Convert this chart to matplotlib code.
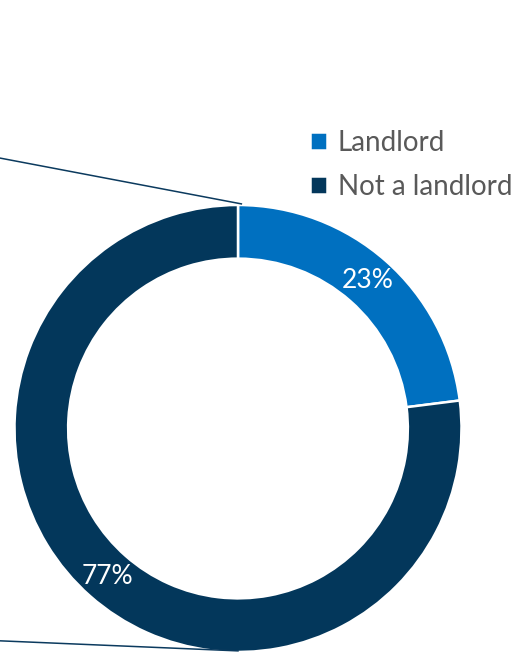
import matplotlib.pyplot as plt
from matplotlib.lines import Line2D

labels = ["Landlord", "Not a landlord"]
shares = [23, 77]
colors = ["#0070C0", "#03375B"]

plt.rcParams["font.family"] = ["Lato", "DejaVu Sans"]

fig = plt.figure(figsize=(5.25, 6.52), dpi=100)
ax = fig.add_axes([14.5 / 525, 0.0, 447 / 525, 447 / 652])

wedges, _, pct = ax.pie(
    shares, colors=colors, startangle=90, counterclock=False, radius=1,
    autopct=lambda p: f"{p:.0f}%", pctdistance=0.88,
    wedgeprops=dict(width=0.24, edgecolor="white", linewidth=1.8),
    textprops=dict(color="white", fontsize=19),
)
ax.set_xlim(-1, 1)
ax.set_ylim(-1, 1)
ax.set_aspect("equal")
ax.axis("off")

# connector lines coming in from the left-hand pie
line_color = "#0B3A5E"
ax.add_line(Line2D([-1.065, 0.015], [1.21, 1.005], color=line_color, lw=1.1, clip_on=False))
ax.add_line(Line2D([-1.065, 0.0], [-0.95, -0.995], color=line_color, lw=1.1, clip_on=False))

fig.legend(wedges, labels, loc="upper left", bbox_to_anchor=(285 / 525, 1 - 105 / 652),
           frameon=False, fontsize=20, labelcolor="#595959",
           handlelength=0.6, handleheight=0.6, handletextpad=0.4, labelspacing=0.65)

fig.savefig("out.png", dpi=100)
